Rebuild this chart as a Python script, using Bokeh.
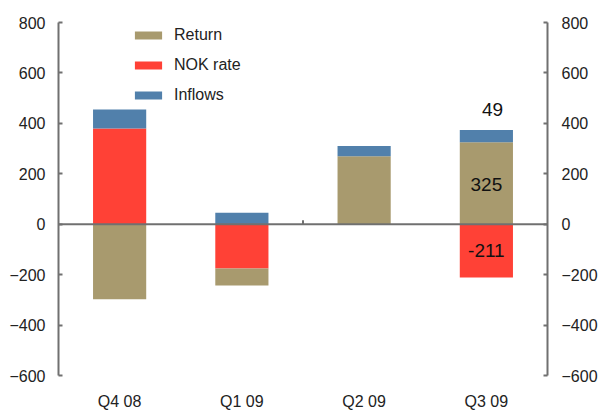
from bokeh.plotting import figure
from bokeh.models import (Range1d, FixedTicker, LinearAxis, Span, Legend, LegendItem,
                          ColumnDataSource)
from bokeh.core.properties import value
from bokeh.embed import file_html
from bokeh.resources import INLINE

categories = ["Q4 08", "Q1 09", "Q2 09", "Q3 09"]
series_names = ["Return", "NOK rate", "Inflows"]
return_vals = [-298, -67, 270, 325]
nok_vals = [380, -176, 0, -211]
inflow_vals = [75, 45, 40, 49]
colors = {"Return": "#A89A6E", "NOK rate": "#FF4136", "Inflows": "#5180AB"}
y_ticks = [-600, -400, -200, 0, 200, 400, 600, 800]

FONT = "Liberation Sans"
TXT = "#222222"
AX = "#707070"

p = figure(width=602, height=412, output_backend="svg", toolbar_location=None,
           x_range=Range1d(0, len(categories)), y_range=Range1d(-600, 800),
           min_border_left=58, min_border_right=55, min_border_top=22, min_border_bottom=33)
p.outline_line_color = None
p.xgrid.visible = False
p.ygrid.visible = False
p.background_fill_color = "white"
p.border_fill_color = "white"

# stacking: order NOK, Return, Inflows for both signs
stack_order = ["NOK rate", "Return", "Inflows"]
vals = {"Return": return_vals, "NOK rate": nok_vals, "Inflows": inflow_vals}
pos = [0.0] * len(categories)
neg = [0.0] * len(categories)
renderers = {}
xs = [i + 0.5 for i in range(len(categories))]
for name in stack_order:
    bottoms, tops = [], []
    for i, v in enumerate(vals[name]):
        if v >= 0:
            bottoms.append(pos[i]); tops.append(pos[i] + v); pos[i] += v
        else:
            bottoms.append(neg[i]); tops.append(neg[i] + v); neg[i] += v
    src = ColumnDataSource(dict(x=xs, bottom=bottoms, top=tops))
    renderers[name] = p.vbar(x="x", bottom="bottom", top="top", width=0.435, source=src,
                             fill_color=colors[name], line_color=None)

# zero line
p.add_layout(Span(location=0, dimension="width", line_color=AX, line_width=2))
# small mid tick on zero line
p.segment(x0=[len(categories) / 2], y0=[0], x1=[len(categories) / 2], y1=[16],
          line_color=AX, line_width=2)

# y axes
def style_y(ax, standoff):
    ax.ticker = FixedTicker(ticks=y_ticks)
    ax.axis_line_color = AX
    ax.axis_line_width = 2
    ax.major_tick_line_color = AX
    ax.major_tick_line_width = 2
    ax.major_tick_in = 4
    ax.major_tick_out = 0
    ax.minor_tick_line_color = None
    ax.major_label_text_font = FONT
    ax.major_label_text_font_size = "16px"
    ax.major_label_text_color = TXT
    ax.major_label_standoff = standoff

style_y(p.yaxis[0], 13)
ry = LinearAxis()
style_y(ry, 14)
p.add_layout(ry, "right")

xa = p.xaxis[0]
xa.ticker = FixedTicker(ticks=xs)
xa.major_label_overrides = {x: c for x, c in zip(xs, categories)}
xa.axis_line_color = None
xa.major_tick_line_color = None
xa.major_tick_in = 0
xa.major_tick_out = 0
xa.minor_tick_line_color = None
xa.major_label_text_font = FONT
xa.major_label_text_font_size = "16px"
xa.major_label_text_color = TXT
xa.major_label_standoff = 17

# data labels for last quarter
i = len(categories) - 1
lbl = ColumnDataSource(dict(
    x=[xs[i] + 0.05, xs[i], xs[i]],
    y=[return_vals[i] + inflow_vals[i] + 82, return_vals[i] / 2 - 5, nok_vals[i] / 2 + 1],
    t=[str(inflow_vals[i]), str(return_vals[i]), str(nok_vals[i])]))
p.text(x="x", y="y", text="t", source=lbl, text_font=value(FONT), text_font_size="19px",
       text_color="#111111", text_align="center", text_baseline="middle")

legend = Legend(items=[LegendItem(label=n, renderers=[renderers[n]]) for n in series_names],
                location=(73, 271), orientation="vertical")
legend.border_line_color = None
legend.background_fill_alpha = 0
legend.padding = 0
legend.margin = 0
legend.glyph_width = 34
legend.glyph_height = 10
legend.label_height = 10
legend.spacing = 12
legend.label_standoff = 9
legend.label_text_font = FONT
legend.label_text_font_size = "16px"
legend.label_text_color = TXT
p.add_layout(legend, "center")

open("out.html", "w").write(file_html(p, INLINE))
